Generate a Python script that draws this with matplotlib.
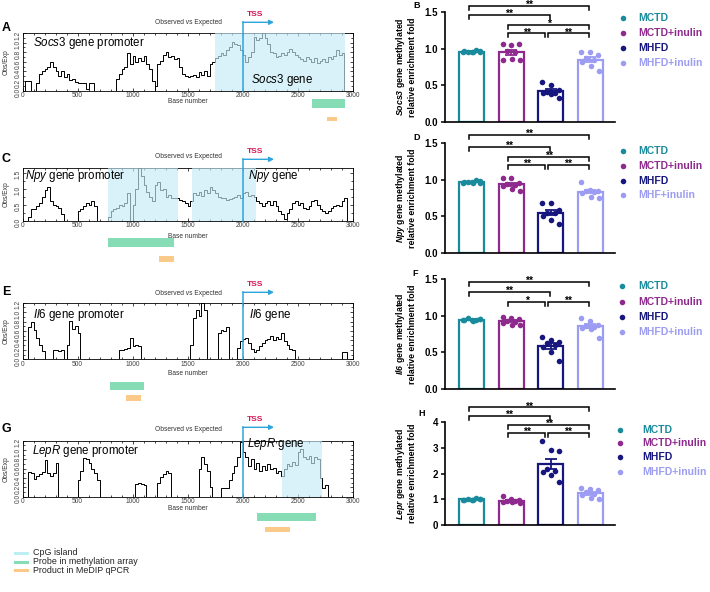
import numpy as np
import matplotlib
matplotlib.use("Agg")
import matplotlib.pyplot as plt
from matplotlib.lines import Line2D
from matplotlib.patches import Rectangle
from matplotlib.ticker import MultipleLocator
from matplotlib.transforms import blended_transform_factory

plt.rcParams['font.family'] = 'Liberation Sans'
plt.rcParams['mathtext.fontset'] = 'custom'
plt.rcParams['mathtext.rm'] = 'Liberation Sans'
plt.rcParams['mathtext.it'] = 'Liberation Sans:italic'
plt.rcParams['mathtext.bf'] = 'Liberation Sans:bold:italic'

# ---------------- data ----------------
groups = ['MCTD', 'MCTD+inulin', 'MHFD', 'MHFD+inulin']
groups_npy = ['MCTD', 'MCTD+inulin', 'MHFD', 'MHF+inulin']

socs3_vals = [[0.95, 0.96, 0.97, 0.96, 0.98, 0.97, 0.96, 0.95],
              [1.06, 1.05, 1.06, 0.97, 0.95, 0.85, 0.86, 0.84],
              [0.55, 0.50, 0.43, 0.41, 0.40, 0.39, 0.38, 0.32],
              [0.96, 0.95, 0.91, 0.87, 0.85, 0.82, 0.77, 0.69]]
npy_vals = [[0.96, 0.97, 0.98, 0.97, 0.99, 0.97, 0.96, 0.95],
            [1.03, 1.02, 0.96, 0.94, 0.93, 0.91, 0.88, 0.84],
            [0.68, 0.68, 0.58, 0.55, 0.54, 0.50, 0.45, 0.39],
            [0.97, 0.86, 0.85, 0.84, 0.83, 0.82, 0.77, 0.75]]
il6_vals = [[0.94, 0.95, 0.96, 0.97, 0.95, 0.94, 0.93, 0.96],
            [0.98, 0.97, 0.96, 0.93, 0.92, 0.90, 0.88, 0.87],
            [0.71, 0.67, 0.64, 0.63, 0.60, 0.57, 0.50, 0.38],
            [0.97, 0.93, 0.88, 0.86, 0.85, 0.84, 0.82, 0.70]]
lepr_vals = [[0.97, 0.98, 1.00, 1.02, 1.05, 0.99, 0.98, 1.01],
             [1.12, 1.00, 0.98, 0.95, 0.93, 0.90, 0.88, 0.86],
             [3.27, 2.92, 2.90, 2.20, 2.12, 2.08, 1.95, 1.66],
             [1.45, 1.40, 1.37, 1.28, 1.22, 1.15, 1.05, 1.03]]

# significance: (group a, group b, bracket height, label)
socs3_sig = [(0, 3, 1.59, '**'), (0, 2, 1.46, '**'), (1, 3, 1.33, '*'),
             (1, 2, 1.21, '**'), (2, 3, 1.21, '**')]
npy_sig = [(0, 3, 1.61, '**'), (0, 2, 1.45, '**'), (1, 3, 1.31, '**'),
           (1, 2, 1.20, '**'), (2, 3, 1.20, '**')]
il6_sig = [(0, 3, 1.46, '**'), (0, 2, 1.33, '**'),
           (1, 2, 1.19, '*'), (2, 3, 1.19, '**')]
lepr_sig = [(0, 3, 4.58, '**'), (0, 2, 4.24, '**'), (1, 3, 3.89, '**'),
            (1, 2, 3.57, '**'), (2, 3, 3.57, '**')]

# CpG obs/exp profiles: (start base, values every 25 bases)
step = 25
socs3_segs = [
    (25, [0.2, 0.2]),
    (125, [0.15, 0.35, 0.4, 0.45, 0.5, 0.6, 0.5, 0.42, 0.3, 0.4, 0.28, 0.35, 0.22, 0.25, 0.18,
           0.15, 0.15, 0.15, 0.03, 0.15, 0.15]),
    (850, [0.25, 0.35, 0.45, 0.5, 0.78, 0.55, 0.72, 0.6, 0.68, 0.62, 0.72, 0.55, 0.45, 0.2]),
    (1200, [0.1, 0.55, 0.62, 0.75, 0.8, 0.7, 0.72, 0.65, 0.68, 0.5, 0.35, 0.3, 0.28, 0.3, 0.33,
            0.28, 0.38, 0.32, 0.42, 0.3, 0.55, 0.6, 0.67, 0.72, 0.78, 0.75, 0.85, 0.9, 1.02, 0.98,
            0.95, 0.85, 0.74, 0.6, 0.7, 0.8, 1.12, 1.05, 1.09, 1.2, 1.1, 0.98, 0.8, 0.78, 0.7,
            0.72, 0.78, 0.75, 0.8, 0.86, 0.8, 0.74, 0.7, 0.65, 0.62, 0.7, 0.65, 0.6, 0.68, 0.57,
            0.62, 0.66, 0.6, 0.7, 0.65, 0.72, 0.85, 0.75, 0.78]),
]
npy_segs = [
    (50, [0.12, 0.35, 0.35, 0.45, 0.55, 0.75, 0.95, 1.05, 0.6, 0.5, 0.45, 0.38, 0.2]),
    (500, [0.3, 0.35, 0.45, 0.55, 0.48, 0.62, 0.45]),
    (775, [0.1, 0.3, 0.35, 0.4, 0.5, 0.45, 0.55, 0.85, 0.0, 0.5,
           1.0, 1.65, 1.4, 1.1, 0.9, 0.75, 0.6, 1.1, 1.2, 0.95,
           1.0, 0.75, 0.8, 0.7, 0.72, 0.7, 0.65, 0.6, 0.55, 0.45,
           0.6, 0.85, 0.8, 0.9, 0.78, 0.95, 0.85, 1.05, 0.95, 0.85,
           0.75, 0.7, 0.72, 0.65, 0.68, 0.7, 0.75, 0.8, 0.72, 0.85,
           0.9, 0.78, 0.8, 0.75, 0.6, 0.55, 0.45, 0.55, 0.62, 0.5,
           0.6, 0.45, 0.3, 0.2, 0.05, 0.25, 0.35, 0.55, 0.6, 0.5,
           0.55, 0.4, 0.35, 0.45, 0.6, 0.65, 0.5, 0.35, 0.3, 0.25,
           0.3, 0.4, 0.45, 0.5, 0.45, 0.6, 0.7]),
]
il6_segs = [
    (50, [0.68, 0.8, 0.62, 0.45, 0.3, 0.18]),
    (275, [0.2, 0.2, 0.18, 0.2]),
    (400, [0.3, 0.82, 0.65, 0.7, 0.55]),
    (875, [0.2, 0.2, 0.22, 0.25, 0.45, 0.28, 0.3, 0.28]),
    (1525, [0.3, 0.88, 1.05, 0.92, 1.2, 1.05]),
    (1775, [0.55, 0.62, 0.6, 0.68]),
    (1950, [0.25, 0.38, 0.42, 0.45, 0.35, 0.22, 0.15, 0.2, 0.28, 0.35, 0.4, 0.42, 0.5, 0.4,
            0.48, 0.42, 0.55, 0.38, 0.3, 0.22, 0.2]),
    (2900, [0.15, 0.15]),
]
lepr_segs = [
    (50, [0.52, 0.5, 0.38, 0.45, 0.48, 0.52, 0.78, 0.5, 0.45, 0.5, 0.72]),
    (500, [0.35, 0.55, 0.82, 0.8, 0.72, 0.6, 0.5, 0.35]),
    (1025, [0.28, 0.3, 0.27, 0.25]),
    (1225, [0.3, 0.42, 0.48, 0.55, 0.5]),
    (1600, [0.6, 0.85, 0.7, 0.55, 0.2]),
    (1800, [0.18, 0.18, 0.18, 0.35, 0.5, 0.65, 0.85, 1.18, 0.95, 0.85, 0.65, 0.8, 0.6, 0.72,
            0.55, 0.65, 0.58, 0.7, 0.6, 0.62, 0.5, 0.55, 0.45, 0.6, 0.7, 0.65, 0.75, 0.68,
            0.95, 1.02, 0.85, 0.8, 0.88, 0.72, 0.85, 0.8, 0.4, 0.18, 0.25]),
]

# regions (bases): CpG islands, array probe, MeDIP product
socs3_cpg, socs3_probe, socs3_prod = [(1750, 2930)], (2627, 2930), (2763, 2854)
npy_cpg, npy_probe, npy_prod = [(773, 1415), (1536, 2121)], (773, 1378), (1242, 1378)
il6_cpg, il6_probe, il6_prod = [], (794, 1103), (939, 1073)
lepr_cpg, lepr_probe, lepr_prod = [(2355, 2718)], (2133, 2666), (2200, 2430)
tss = 2000

colors = ['#1a8b9d', '#8e2a8e', '#16167e', '#9c9cf2']
cpg_col, probe_col, prod_col = '#c6ebf8', '#86dcb5', '#fcca88'
tss_col = '#2ea4dc'

W, H = 710, 592
fig = plt.figure(figsize=(W / 100, H / 100), dpi=100)


def box(l, t, r, b):
    return fig.add_axes([l / W, 1 - b / H, (r - l) / W, (b - t) / H])


def ftext(x, y, s, **kw):
    return fig.text(x / W, 1 - y / H, s, **kw)


def profile(top, bot, segs, ymax, ytick, cpg, probe, prod, probe_y, prod_y, gene,
            letter, ttl_y, tss_y, arr_y, base_y, prom_xy, gene_xy, shift):
    ax = box(22.7, top, 352.7, bot)
    for s, v in segs:
        xs = np.concatenate([[s], s + step * np.arange(len(v) + 1)])
        ys = np.concatenate([[0], v, [0]])
        ax.plot(xs, ys, drawstyle='steps-post', color='black', lw=0.7, zorder=2)
    for a, b in cpg:
        ax.axvspan(a, b, color=cpg_col, alpha=0.65, lw=0, zorder=3)
    ax.set_xlim(0, 3000)
    ax.set_ylim(0, ymax)
    ax.xaxis.set_major_locator(MultipleLocator(500))
    ax.xaxis.set_minor_locator(MultipleLocator(100))
    ax.yaxis.set_major_locator(MultipleLocator(ytick))
    ax.yaxis.set_minor_locator(MultipleLocator(ytick / 2))
    ax.tick_params(which='both', direction='in', top=True, right=True, width=0.5,
                   labelsize=4.8, labelcolor='#444444', pad=1)
    ax.tick_params(which='major', length=2.5)
    ax.tick_params(which='minor', length=1.2)
    ax.tick_params(axis='y', labelrotation=90)
    for sp in ax.spines.values():
        sp.set_linewidth(0.6)
    tr = blended_transform_factory(ax.transData, fig.transFigure)
    for (a, b), (y0, y1), c in [(probe, probe_y, probe_col), (prod, prod_y, prod_col)]:
        fig.add_artist(Rectangle((a, 1 - y1 / H), b - a, (y1 - y0) / H, transform=tr,
                                 facecolor=c, edgecolor='none'))
    # TSS marker
    fig.add_artist(Line2D([tss, tss], [1 - arr_y / H, 1 - bot / H], transform=tr,
                          color=tss_col, lw=1.1))
    ax.annotate('', xy=(2285, 1 - arr_y / H), xytext=(tss, 1 - arr_y / H), xycoords=tr,
                textcoords=tr, arrowprops=dict(arrowstyle='-|>', color=tss_col, lw=1,
                                               mutation_scale=7, shrinkA=0, shrinkB=0))
    ftext(255, tss_y, 'TSS', color='#d4145a', fontsize=6, fontweight='bold',
          ha='center', va='center')
    ftext(188, ttl_y, 'Observed vs Expected', fontsize=4.8, color='#333333',
          ha='center', va='center')
    ftext(188, base_y + 1.5, 'Base number', fontsize=4.8, color='#333333', ha='center',
          va='center')
    ftext(6, (top + bot) / 2, 'Obs/Exp', fontsize=4.8, color='#333333', rotation=90,
          ha='center', va='center')
    ftext(2, ttl_y + shift, letter, fontsize=9, fontweight='bold', va='center')
    ftext(prom_xy[0], prom_xy[1], r'$\mathit{%s}$ gene promoter' % gene, fontsize=8.3,
          va='center')
    ftext(gene_xy[0], gene_xy[1], r'$\mathit{%s}$ gene' % gene, fontsize=8.3, va='center')
    return ax


def bars(ymin_px, ymax_px, vals, ymax, ytick, gene, letter, letter_xy, labels, sig,
         leg_mx, leg_tx, leg_ys):
    ax = box(445, ymax_px, 615, ymin_px)
    jit = np.array([-0.22, 0.0, 0.2, -0.1, 0.1, -0.2, 0.02, 0.22])
    for i, v in enumerate(vals):
        v = np.array(v)
        m = v.mean()
        se = v.std(ddof=1) / np.sqrt(len(v))
        ax.bar(i, m, width=0.63, facecolor='white', edgecolor=colors[i], lw=1.6, zorder=2)
        ax.errorbar(i, m, yerr=se, color=colors[i], capsize=4, lw=1.3, capthick=1.3,
                    zorder=3)
        ax.plot(i + jit[:len(v)], v, 'o', color=colors[i], ms=4, mew=0, zorder=4)
    ax.set_xlim(-0.68, 3.63)
    ax.set_ylim(0, ymax)
    ax.yaxis.set_major_locator(MultipleLocator(ytick))
    ax.set_xticks([])
    ax.spines[['top', 'right']].set_visible(False)
    ax.spines[['left', 'bottom']].set_linewidth(1.2)
    ax.tick_params(axis='y', length=3, width=1.1, labelsize=7, pad=2)
    for t in ax.get_yticklabels():
        t.set_fontweight('bold')
    ax.set_ylabel(r'$\mathbf{%s}$ gene methylated' % gene + '\nrelative enrichment fold',
                  fontsize=6.3, fontweight='bold', linespacing=1.1)
    ax.yaxis.set_label_coords(-0.165, 0.5)
    leg = 0.035 * ymax
    starts = {(a, h) for a, b, h, s in sig}
    for a, b, h, s in sig:
        x1 = a - 0.08
        x2 = b - (0.14 if (b, h) in starts else 0.02)
        ax.plot([x1, x1, x2, x2], [h - leg, h, h, h - leg], color='black', lw=1.1,
                clip_on=False, solid_joinstyle='miter')
        ax.text((x1 + x2) / 2, h + 0.01 * ymax, s, ha='center', va='center',
                fontsize=7.5, fontweight='bold')
    ftext(letter_xy[0], letter_xy[1], letter, fontsize=6.5, fontweight='bold',
          va='center')
    for i, lab in enumerate(labels):
        fig.add_artist(Line2D([leg_mx / W], [1 - leg_ys[i] / H], marker='o', ms=4, mew=0,
                              color=colors[i], ls='none', transform=fig.transFigure))
        ftext(leg_tx, leg_ys[i], lab, color=colors[i], fontsize=7.5, fontweight='bold',
              va='center')
    return ax


profile(33, 90.7, socs3_segs, 1.2, 0.2, socs3_cpg, socs3_probe, socs3_prod,
        (99, 108), (116.7, 120.7), 'Socs3', 'A', 23, 15, 22.3, 100, (33, 43), (251, 80), 5)
profile(167.7, 220.7, npy_segs, 1.65, 0.5, npy_cpg, npy_probe, npy_prod,
        (237.7, 246.7), (256, 261.5), 'Npy', 'C', 156, 151.7, 159.3, 235, (25, 176),
        (248, 176), 3)
profile(302.7, 359.3, il6_segs, 1.2, 0.2, il6_cpg, il6_probe, il6_prod,
        (381.7, 390), (395, 400.7), 'Il6', 'E', 293.3, 284.3, 292.3, 371.7, (33, 315),
        (249, 315), -1)
profile(440.7, 496.7, lepr_segs, 1.2, 0.2, lepr_cpg, lepr_probe, lepr_prod,
        (513.3, 521), (526.5, 531.5), 'LepR', 'G', 429.3, 419.3, 427.3, 507.3,
        (32, 450.7), (247, 444.3), 0)

bars(121.7, 12.3, socs3_vals, 1.5, 0.5, 'Socs3', 'B', (413, 5), groups, socs3_sig,
     623, 638, [18.3, 33.3, 48.3, 63.3])
bars(252.7, 143.3, npy_vals, 1.5, 0.5, 'Npy', 'D', (413, 138), groups_npy, npy_sig,
     623, 638, [150.7, 166, 180.7, 195])
bars(389, 279.3, il6_vals, 1.5, 0.5, 'Il6', 'F', (412, 273), groups, il6_sig,
     621.5, 638, [285.7, 301.7, 316.7, 331.7])
bars(525, 422.3, lepr_vals, 4, 1, 'Lepr', 'H', (418, 413), groups, lepr_sig,
     620, 642, [430, 443.3, 456.7, 471.7])

# bottom-left key
for y, c, lab in [(552.7, '#bdeef2', 'CpG island'), (561.5, probe_col, 'Probe in methylation array'),
                  (570.3, prod_col, 'Product in MeDIP qPCR')]:
    fig.add_artist(Line2D([15 / W, 27 / W], [1 - y / H] * 2, color=c, lw=2.2,
                          transform=fig.transFigure))
    ftext(33, y, lab, fontsize=6.4, color='#222222', va='center')

fig.savefig('out.png', dpi=100)
